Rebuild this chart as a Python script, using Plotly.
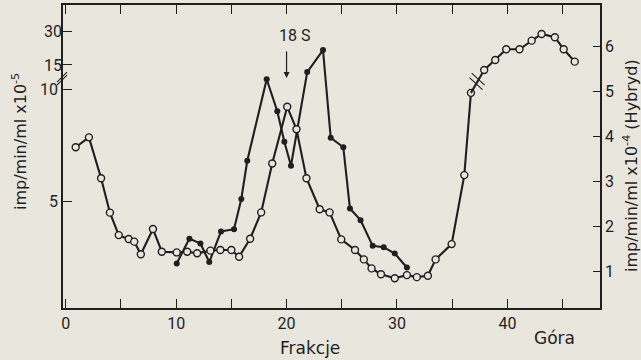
import plotly.graph_objects as go

# ---------------- data ----------------
# open circles, left axis (imp/min/ml x10^-5), lower segment 0-10
open_low_x = [0.9, 2.1, 3.2, 4.0, 4.8, 5.7, 6.2, 6.8, 7.9, 8.7, 10.05, 11.0, 11.9, 13.1,
              14.0, 15.0, 15.7, 16.7, 17.7, 18.7, 20.06, 20.9, 21.8, 23.0, 23.9, 24.95,
              26.2, 27.0, 27.7, 28.55, 29.8, 30.9, 31.8, 32.8, 33.5, 34.95, 36.1, 36.7]
open_low_y = [7.42, 7.86, 6.04, 4.51, 3.51, 3.34, 3.22, 2.66, 3.78, 2.77, 2.74, 2.77, 2.70, 2.82,
              2.85, 2.85, 2.55, 3.35, 4.52, 6.70, 9.22, 8.22, 6.04, 4.66, 4.52, 3.32,
              2.85, 2.43, 2.03, 1.77, 1.59, 1.73, 1.64, 1.70, 2.43, 3.11, 6.18, 9.84]
# open circles above the axis break (15-30 segment)
open_up_x = [37.9, 38.9, 39.9, 41.1, 42.2, 43.1, 44.3, 45.1, 46.1]
open_up_y = [12.75, 17.25, 22.07, 22.07, 25.95, 28.96, 27.48, 22.07, 16.49]

# filled circles, right axis (Hybryd, x10^-4)
hyb_x = [10.05, 11.2, 12.2, 13.0, 14.06, 15.24, 15.9, 16.44, 18.2, 19.16, 19.8,
         20.4, 21.87, 23.3, 24.0, 25.14, 25.74, 26.7, 27.8, 28.8, 29.8, 30.9]
hyb_y = [1.18, 1.73, 1.62, 1.21, 1.89, 1.94, 2.61, 3.46, 5.27, 4.56, 3.88,
         3.35, 5.43, 5.92, 3.97, 3.76, 2.40, 2.14, 1.57, 1.54, 1.40, 1.09]

x_major_ticks = [0, 10, 20, 30, 40]
x_minor_ticks = [5, 15, 25, 35, 45]
left_low_ticks = [5, 10]
left_up_ticks = [15, 30]
right_ticks = [1, 2, 3, 4, 5, 6]
marker_18s = 20

# ---------------- styling ----------------
BG = "#e9e6de"
INK = "#1f1f1f"
FONT = "Roboto, Arial, sans-serif"
TFONT = "DejaVu Sans, Arial, sans-serif"

X_RANGE = [-0.25, 48.39]
LOW_RANGE = [0.267, 13.75]
UP_RANGE = [-94.5, 42.0]
RIGHT_RANGE = [0.189, 6.92]


def low_to_up(v):
    f = (v - LOW_RANGE[0]) / (LOW_RANGE[1] - LOW_RANGE[0])
    return UP_RANGE[0] + f * (UP_RANGE[1] - UP_RANGE[0])


fig = go.Figure()

fig.add_trace(go.Scatter(
    x=hyb_x, y=hyb_y, yaxis="y", mode="lines+markers",
    line=dict(color=INK, width=2.1),
    marker=dict(symbol="circle", size=6, color=INK),
    showlegend=False))

# connector across the break
fig.add_trace(go.Scatter(
    x=[open_low_x[-1], open_up_x[0]], y=[low_to_up(open_low_y[-1]), open_up_y[0]],
    yaxis="y3", mode="lines", line=dict(color=INK, width=2.1), showlegend=False))

fig.add_trace(go.Scatter(
    x=open_low_x, y=open_low_y, yaxis="y2", mode="lines+markers",
    line=dict(color=INK, width=2.1),
    marker=dict(symbol="circle", size=7, color=BG, line=dict(color=INK, width=1.4)),
    showlegend=False))

fig.add_trace(go.Scatter(
    x=open_up_x, y=open_up_y, yaxis="y3", mode="lines+markers",
    line=dict(color=INK, width=2.1),
    marker=dict(symbol="circle", size=7, color=BG, line=dict(color=INK, width=1.4)),
    showlegend=False))

axis_common = dict(showgrid=False, zeroline=False, ticks="inside", automargin=False,
                   tickcolor=INK, tickwidth=1.3,
                   tickfont=dict(family=FONT, size=16, color=INK))

fig.update_layout(
    width=641, height=360,
    margin=dict(l=63, r=41, t=5, b=52, autoexpand=False),
    paper_bgcolor=BG, plot_bgcolor=BG,
    font=dict(family=FONT, color=INK),
    hovermode=False,
    xaxis=dict(range=X_RANGE, tickvals=x_major_ticks, ticklen=9,
               minor=dict(tickvals=x_minor_ticks, ticks="inside", ticklen=9,
                          tickwidth=1.3, tickcolor=INK, showgrid=False),
               showline=True, linecolor=INK, linewidth=1.6, mirror="ticks",
               **axis_common),
    yaxis=dict(range=RIGHT_RANGE, side="right", anchor="x", tickvals=right_ticks,
               ticklen=7, showline=True, linecolor=INK, linewidth=1.6, **axis_common),
    yaxis2=dict(range=LOW_RANGE, side="left", anchor="x", overlaying="y",
                tickvals=left_low_ticks, ticklen=9, showline=True, linecolor=INK,
                linewidth=1.6, **axis_common),
    yaxis3=dict(range=UP_RANGE, side="left", anchor="x", overlaying="y",
                tickvals=left_up_ticks, ticklen=9, showline=False, **axis_common),
)

# break marks on the left axis
for dy in (0, -3):
    fig.add_shape(type="line", xref="paper", yref="paper",
                  xsizemode="pixel", ysizemode="pixel", xanchor=0, yanchor=0.762,
                  x0=-6, y0=-5 + dy, x1=4, y1=5 + dy,
                  line=dict(color=INK, width=1.1))

# break marks on the data line
bx = (open_low_x[-1] + open_up_x[0]) / 2
by = (low_to_up(open_low_y[-1]) + open_up_y[0]) / 2
for off in (-2.2, 2.2):
    fig.add_shape(type="line", xref="x", yref="y3",
                  xsizemode="pixel", ysizemode="pixel", xanchor=bx, yanchor=by,
                  x0=-7 + off * 0.5, y0=6 + off, x1=6 + off * 0.5, y1=-6 + off,
                  line=dict(color=INK, width=1.1))

# titles and labels
ann = dict(showarrow=False, xanchor="center", yanchor="middle")
fig.add_annotation(text="imp/min/ml x10<sup>-5</sup>", xref="paper", yref="paper",
                   x=-0.082, y=0.551, textangle=-90,
                   font=dict(family=TFONT, size=16, color=INK), **ann)
fig.add_annotation(text="imp/min/ml x10<sup>-4</sup> (Hybryd)", xref="paper", yref="paper",
                   x=1.0577, y=0.472, textangle=-90,
                   font=dict(family=TFONT, size=16, color=INK), **ann)
fig.add_annotation(text="Frakcje", xref="paper", yref="paper", x=0.46, y=-0.132,
                   font=dict(family=TFONT, size=17, color=INK), **ann)
fig.add_annotation(text="Góra", xref="paper", yref="paper", x=0.916, y=-0.099,
                   font=dict(family=TFONT, size=17, color=INK), **ann)
fig.add_annotation(text="18 S", xref="x", yref="paper", x=marker_18s + 0.7, y=0.898,
                   font=dict(family=FONT, size=16, color=INK), **ann)
fig.add_annotation(text="", xref="x", yref="paper", x=marker_18s, y=0.759,
                   showarrow=True, ax=0, ay=-28, arrowhead=2, arrowsize=1,
                   arrowwidth=1.2, arrowcolor=INK)

fig.write_html(
    "out.html",
    config={"displayModeBar": False},
    post_script="document.body.style.margin='0';document.body.style.padding='0';"
                "document.body.style.background='" + BG + "';",
)
